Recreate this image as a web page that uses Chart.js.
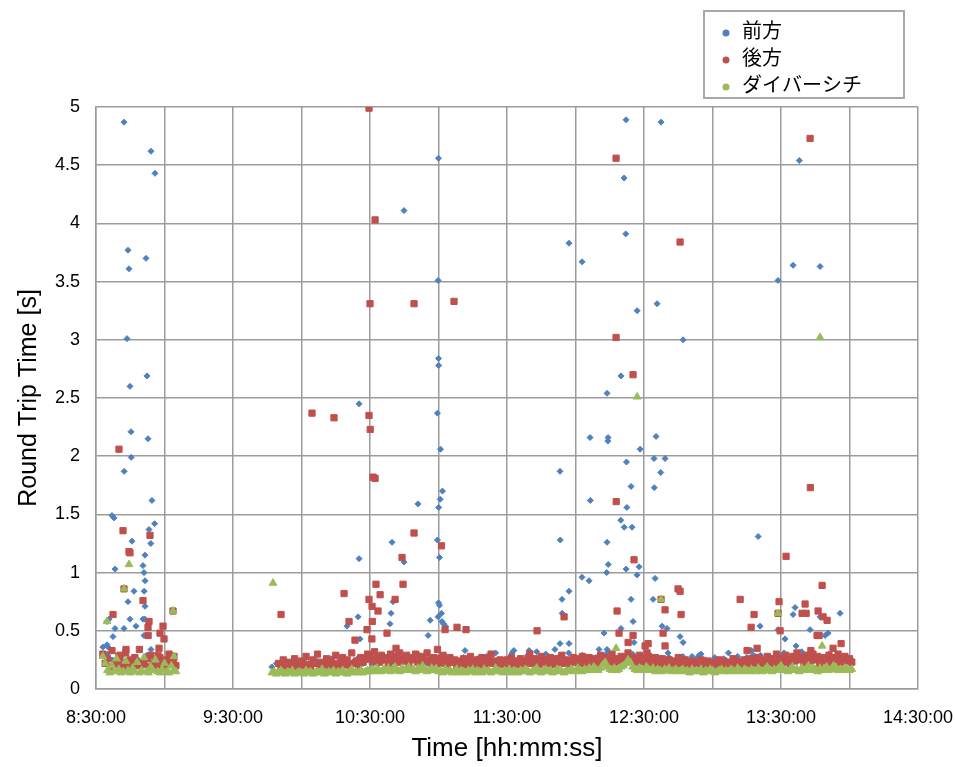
<!DOCTYPE html>
<html>
<head>
<meta charset="utf-8">
<script src="https://cdn.jsdelivr.net/npm/chart.js@4/dist/chart.umd.min.js"></script>
<style>
  html, body { margin: 0; padding: 0; background: #fff; }
  #wrap { width: 955px; height: 767px; }
</style>
</head>
<body>
<div id="wrap"><canvas id="rtt" width="955" height="767"></canvas></div>
<script>
// ---- series and axis labels ----
const seriesNames = ['前方', '後方', 'ダイバーシチ'];
const xTickLabels = ['8:30:00', '9:30:00', '10:30:00', '11:30:00', '12:30:00', '13:30:00', '14:30:00'];
const xRange = ['8:30:00', '14:30:00'];
const yRange = [0, 5];

// ---- steady-state readings: [first sample time, seconds between samples] ----
const blueBaseA = ['8:33:00', 120];
const blueValsA = [0.36,0.3,0.25,0.22,0.28,0.2,0.24,0.27,0.21,0.23,0.26,0.2,0.22,0.25,0.21,0.23,0.2];
const blueBaseB = ['9:47:00', 120];
const blueValsB = [
  0.19,0.22,0.2,0.24,0.21,0.23,0.2,0.25,0.22,0.21,
  0.24,0.2,0.23,0.26,0.21,0.22,0.25,0.2,0.24,0.27,
  0.22,0.25,0.21,0.28,0.23,0.26,0.22,0.29,0.24,0.27,
  0.23,0.26,0.3,0.24,0.22,0.27,0.25,0.28,0.23,0.26,
  0.24,0.22,0.27,0.25,0.23,0.26,0.22,0.28,0.24,0.31,
  0.25,0.23,0.27,0.33,0.26,0.24,0.29,0.25,0.32,0.27,
  0.3,0.26,0.34,0.28,0.25,0.31,0.27,0.24,0.29,0.26,
  0.24,0.27,0.23,0.29,0.25,0.22,0.26,0.28,0.24,0.3,
  0.26,0.23,0.25,0.28,0.22,0.26,0.24,0.27,0.23,0.25,
  0.28,0.24,0.22,0.26,0.3,0.25,0.23,0.27,0.24,0.26,
  0.31,0.25,0.28,0.24,0.27,0.33,0.26,0.29,0.25,0.28,
  0.24,0.27,0.3,0.25,0.28,0.26,0.32,0.27,0.29,0.25,
  0.28,0.26,0.3,0.25,0.27,0.24,0.26,0.25
];

const redBaseA = ['8:33:00', 60];
const redValsA = [0.3,0.22,0.26,0.19,0.33,0.21,0.24,0.28,0.2,0.23,0.31,0.19,0.25,0.22,0.27,0.2,0.34,0.23,0.21,0.26,0.19,0.29,0.22,0.24,0.2,0.27,0.23,0.19,0.25,0.3,0.21,0.24,0.2];
const redBaseB = ['9:50:00', 60];
const redValsB = [
  0.22,0.19,0.25,0.21,0.18,0.23,0.2,0.26,0.19,0.22,
  0.24,0.2,0.28,0.21,0.19,0.25,0.22,0.3,0.2,0.23,
  0.21,0.26,0.19,0.24,0.22,0.29,0.2,0.23,0.27,0.21,
  0.25,0.2,0.31,0.22,0.24,0.19,0.27,0.23,0.26,0.3,
  0.28,0.24,0.32,0.26,0.23,0.29,0.25,0.27,0.22,0.3,
  0.25,0.28,0.23,0.31,0.26,0.24,0.29,0.22,0.27,0.25,
  0.3,0.23,0.26,0.28,0.24,0.31,0.25,0.22,0.27,0.24,
  0.26,0.22,0.29,0.24,0.21,0.27,0.23,0.25,0.2,0.24,
  0.22,0.26,0.2,0.24,0.28,0.21,0.23,0.25,0.2,0.27,
  0.23,0.21,0.26,0.3,0.22,0.24,0.2,0.25,0.23,0.21,
  0.25,0.22,0.27,0.2,0.24,0.21,0.26,0.23,0.2,0.25,
  0.3,0.22,0.26,0.24,0.21,0.28,0.23,0.25,0.22,0.27,
  0.24,0.21,0.26,0.23,0.29,0.22,0.25,0.2,0.24,0.27,
  0.23,0.26,0.22,0.28,0.24,0.21,0.27,0.25,0.23,0.26,
  0.22,0.29,0.24,0.27,0.21,0.25,0.3,0.23,0.26,0.24,
  0.28,0.22,0.25,0.31,0.24,0.27,0.23,0.26,0.29,0.24,
  0.26,0.23,0.28,0.21,0.25,0.27,0.22,0.24,0.26,0.21,
  0.23,0.25,0.2,0.24,0.22,0.27,0.21,0.23,0.25,0.2,
  0.22,0.24,0.2,0.23,0.21,0.25,0.2,0.22,0.24,0.21,
  0.23,0.2,0.22,0.25,0.21,0.24,0.2,0.23,0.22,0.26,
  0.21,0.24,0.22,0.2,0.25,0.23,0.21,0.26,0.22,0.24,
  0.27,0.22,0.25,0.21,0.28,0.23,0.26,0.22,0.3,0.24,
  0.26,0.23,0.29,0.25,0.22,0.28,0.24,0.31,0.25,0.27,
  0.23,0.29,0.26,0.24,0.3,0.25,0.28,0.22,0.27,0.26,
  0.24,0.29,0.22,0.27,0.25,0.3,0.23,0.26,0.28,0.24,
  0.26,0.23
];

const greenBaseA = ['8:33:00', 60];
const greenValsA = [0.28,0.22,0.16,0.14,0.2,0.15,0.26,0.17,0.14,0.15,0.24,0.16,0.14,0.18,0.15,0.23,0.14,0.16,0.27,0.15,0.14,0.19,0.16,0.25,0.15,0.14,0.17,0.22,0.15,0.14,0.2,0.16,0.15];
const greenBaseB = ['9:47:00', 60];
const greenValsB = [
  0.14,0.15,0.13,0.14,0.16,0.14,0.13,0.15,0.14,0.16,
  0.13,0.14,0.15,0.14,0.13,0.16,0.14,0.15,0.13,0.14,
  0.15,0.14,0.17,0.13,0.14,0.15,0.14,0.16,0.13,0.15,
  0.14,0.16,0.14,0.13,0.15,0.17,0.14,0.15,0.14,0.16,
  0.14,0.15,0.16,0.15,0.17,0.15,0.18,0.16,0.15,0.17,
  0.16,0.18,0.15,0.17,0.19,0.16,0.15,0.18,0.16,0.17,
  0.19,0.16,0.17,0.15,0.18,0.16,0.2,0.17,0.15,0.16,
  0.18,0.16,0.17,0.15,0.16,0.14,0.17,0.15,0.16,0.14,
  0.15,0.17,0.14,0.16,0.15,0.14,0.16,0.15,0.17,0.14,
  0.16,0.15,0.14,0.17,0.15,0.16,0.14,0.15,0.18,0.16,
  0.15,0.14,0.16,0.15,0.17,0.14,0.16,0.15,0.14,0.16,
  0.15,0.17,0.16,0.14,0.15,0.16,0.18,0.15,0.14,0.16,
  0.17,0.15,0.16,0.14,0.15,0.17,0.16,0.15,0.14,0.16,
  0.15,0.17,0.16,0.15,0.18,0.16,0.15,0.17,0.16,0.18,
  0.16,0.19,0.17,0.16,0.18,0.21,0.23,0.19,0.17,0.16,
  0.18,0.16,0.17,0.19,0.2,0.22,0.25,0.23,0.19,0.17,
  0.16,0.18,0.17,0.16,0.19,0.17,0.16,0.18,0.15,0.17,
  0.16,0.15,0.17,0.16,0.18,0.15,0.16,0.17,0.15,0.16,
  0.17,0.15,0.16,0.14,0.17,0.15,0.16,0.15,0.17,0.14,
  0.16,0.15,0.17,0.16,0.14,0.15,0.16,0.17,0.15,0.16,
  0.15,0.17,0.16,0.15,0.18,0.16,0.15,0.17,0.16,0.15,
  0.17,0.16,0.15,0.18,0.16,0.15,0.17,0.19,0.16,0.15,
  0.17,0.16,0.18,0.2,0.17,0.16,0.15,0.17,0.19,0.16,
  0.17,0.15,0.18,0.16,0.17,0.2,0.16,0.18,0.17,0.15,
  0.18,0.16,0.17,0.19,0.16,0.17,0.2,0.18,0.16,0.17,
  0.16,0.18,0.17,0.16,0.17
];

// ---- individual delayed replies: [time, round trip seconds] ----
const blueSpikes = [
  ['8:42:16',4.87],['8:54:05',4.62],['8:55:50',4.43],['8:44:01',3.77],['8:51:54',3.70],['8:44:27',3.61],
  ['8:43:35',3.01],['8:52:20',2.69],['8:44:53',2.60],['8:45:20',2.21],['8:52:47',2.15],['8:45:25',1.99],
  ['8:42:20',1.87],['8:54:30',1.62],['8:37:00',1.49],['8:37:53',1.47],['8:55:40',1.42],['8:53:13',1.37],
  ['8:45:46',1.27],['8:54:00',1.25],['8:51:28',1.15],['8:50:35',1.06],['8:38:19',1.03],['8:51:01',1.00],
  ['8:51:30',0.93],['8:46:39',0.84],['8:51:05',0.84],['8:44:01',0.75],['8:51:28',0.71],['8:44:53',0.60],
  ['8:50:35',0.60],['8:51:25',0.60],['8:35:42',0.60],['8:34:49',0.58],['8:38:19',0.52],['8:42:16',0.52],
  ['8:47:31',0.54],['8:51:01',0.46],['8:37:27',0.45],['8:54:05',0.34],['8:34:49',0.38],['8:35:15',0.36],
  ['8:48:24',0.25],['8:52:20',0.29],
  ['10:25:12',1.12],['10:44:54',1.09],['10:40:05',0.75],['10:39:13',0.65],['10:24:46',0.62],['10:19:56',0.54],
  ['10:38:46',0.56],['10:25:38',0.43],['11:00:00',0.74],['11:00:26',0.72],['11:01:18',0.65],['10:59:50',0.62],
  ['10:56:21',0.59],['11:01:30',0.58],['11:02:10',0.56],['11:03:03',0.54],['10:55:28',0.46],['11:11:37',0.33],
  ['10:59:58',4.56],['10:44:54',4.11],['10:59:50',3.51],['11:00:00',2.84],['11:00:05',2.78],['10:25:12',2.45],
  ['10:59:32',2.37],['11:00:52',2.06],['11:01:44',1.70],['11:00:45',1.63],['10:51:00',1.59],['11:00:05',1.56],
  ['10:39:39',1.26],['10:59:32',1.28],['11:00:26',1.13],
  ['12:22:08',4.89],['12:37:28',4.87],['12:21:17',4.39],['12:22:00',3.91],['11:57:10',3.83],['12:02:53',3.67],
  ['12:35:43',3.31],['12:27:00',3.25],['12:47:07',3.00],['12:19:56',2.69],['12:13:49',2.54],['12:35:17',2.17],
  ['12:06:22',2.16],['12:14:16',2.16],['12:14:10',2.13],['12:28:18',2.06],['12:34:24',1.98],['12:39:13',1.98],
  ['11:53:13',1.87],['12:22:20',1.95],['12:37:20',1.86],['12:24:20',1.74],['12:34:30',1.73],['12:06:30',1.62],
  ['12:22:30',1.56],['12:19:50',1.45],['12:21:20',1.39],['12:24:46',1.39],['11:53:20',1.28],['12:13:50',1.26],
  ['12:14:20',1.07],['12:27:50',1.05],['12:27:00',0.98],['12:13:40',1.00],['12:02:50',0.96],['12:05:56',0.93],
  ['12:22:10',1.03],['12:34:51',0.95],['11:57:10',0.84],['11:54:06',0.77],['12:34:00',0.77],['12:24:20',0.77],
  ['11:54:10',0.65],['12:25:12',0.58],['12:37:55',0.54],['12:40:05',0.52],['12:19:56',0.52],['12:12:30',0.48],
  ['12:45:48',0.45],['12:47:07',0.40],['12:25:38',0.40],['11:53:13',0.39],['11:57:10',0.39],['12:40:31',0.31],
  ['12:13:49',0.34],['12:14:16',0.32],['12:10:18',0.34],['11:39:40',0.33],['11:32:13',0.31],['12:51:02',0.28],
  ['12:54:07',0.29],
  ['13:38:00',4.54],['13:35:17',3.64],['13:47:07',3.63],['13:28:43',3.51],['13:20:00',1.31],['13:36:10',0.70],
  ['13:35:17',0.64],['13:47:07',0.62],['13:55:52',0.65],['13:20:50',0.54],['13:28:43',0.51],['13:42:44',0.51],
  ['13:49:18',0.46],['13:50:37',0.48],['13:31:47',0.43],['13:36:36',0.37],['13:17:46',0.29],['13:18:38',0.28],
  ['13:31:21',0.31],['13:36:10',0.28]
];
const redSpikes = [
  ['8:40:04',2.06],['8:41:50',1.36],['8:53:39',1.32],['8:44:27',1.18],['8:44:53',1.17],['8:50:35',0.76],
  ['8:37:27',0.64],['8:53:13',0.58],['8:52:47',0.53],['8:59:21',0.54],['8:52:50',0.46],['8:58:02',0.48],
  ['8:59:47',0.43],['8:57:36',0.35],['8:43:08',0.34],['8:57:09',0.29],['8:40:30',0.29],['8:42:16',0.86],
  ['9:03:44',0.67],['9:04:10',0.28],
  ['10:29:34',4.99],['10:32:13',4.03],['10:30:00',3.31],['10:49:17',3.31],['11:06:48',3.33],['10:04:36',2.37],
  ['10:14:14',2.33],['10:29:34',2.35],['10:30:05',2.23],['10:31:20',1.82],['10:32:13',1.81],['10:49:17',1.34],
  ['11:01:18',1.23],['10:44:02',1.13],['9:51:02',0.64],['10:18:38',0.82],['10:32:38',0.90],['10:44:28',0.90],
  ['10:34:25',0.81],['10:29:34',0.77],['10:41:00',0.77],['10:30:54',0.71],['10:33:31',0.67],['10:20:49',0.58],
  ['10:31:00',0.58],['10:28:42',0.51],['10:37:27',0.48],['10:23:26',0.42],['10:30:50',0.43],['10:41:24',0.35],
  ['11:02:52',0.51],['11:08:07',0.53],['11:12:04',0.51],['10:59:32',0.34],
  ['12:17:46',4.56],['12:45:48',3.84],['12:17:46',3.02],['12:25:12',2.70],['12:17:50',1.61],['12:25:38',1.11],
  ['12:44:55',0.86],['12:45:48',0.84],['12:37:28',0.77],['12:18:12',0.67],['12:39:13',0.68],['11:55:00',0.62],
  ['12:46:14',0.64],['11:43:10',0.50],['12:19:04',0.48],['12:25:12',0.46],['12:38:21',0.48],['12:23:02',0.40],
  ['12:30:29',0.37],['12:31:48',0.39],['12:39:13',0.37],['12:31:20',0.31],
  ['13:42:44',4.73],['13:42:50',1.73],['13:32:13',1.14],['13:48:00',0.89],['13:12:06',0.77],['13:29:09',0.75],
  ['13:40:33',0.73],['13:18:12',0.64],['13:28:43',0.65],['13:39:14',0.65],['13:41:00',0.65],['13:46:15',0.67],
  ['13:48:26',0.62],['13:50:11',0.59],['13:16:55',0.53],['13:29:36',0.50],['13:45:48',0.46],['13:46:41',0.46],
  ['13:19:32',0.35],['13:15:08',0.33],['13:52:48',0.35],['13:56:19',0.39],['13:43:05',0.33]
];
const greenSpikes = [
  ['8:44:27',1.07],['8:42:16',0.86],['8:34:49',0.58],['9:03:44',0.67],['9:04:10',0.28],['9:47:31',0.91],
  ['12:27:00',2.51],['12:37:28',0.77],['12:17:46',0.35],['13:47:07',3.02],['13:28:43',0.65],['13:48:00',0.37]
];

// ---- helpers ----
function toSec(t) {
  const p = t.split(':').map(Number);
  return p[0] * 3600 + p[1] * 60 + (p[2] || 0);
}
function fmtTime(sec) {
  const h = Math.floor(sec / 3600);
  const m = Math.floor((sec % 3600) / 60);
  const s = Math.round(sec % 60);
  return h + ':' + String(m).padStart(2, '0') + ':' + String(s).padStart(2, '0');
}
function logged(base, values) {
  const t0 = toSec(base[0]);
  return values.map((v, i) => ({ x: t0 + i * base[1], y: v }));
}
function pairs(list) {
  return list.map(([t, v]) => ({ x: toSec(t), y: v }));
}

const bluePts = logged(blueBaseA, blueValsA).concat(logged(blueBaseB, blueValsB), pairs(blueSpikes));
const redPts = logged(redBaseA, redValsA).concat(logged(redBaseB, redValsB), pairs(redSpikes));
const greenPts = logged(greenBaseA, greenValsA).concat(logged(greenBaseB, greenValsB), pairs(greenSpikes));

const COLORS = ['#4f81bd', '#c0504d', '#9bbb59'];
const GRID = '#9c9c9c';
const LATIN = '"Liberation Sans", Arial, sans-serif';

// boxed legend in the upper right corner
const legendBox = {
  id: 'legendBox',
  afterDraw(chart) {
    const c = chart.ctx;
    c.save();
    c.fillStyle = '#fff';
    c.fillRect(704, 11, 200, 87);
    c.strokeStyle = '#a8a8a8';
    c.lineWidth = 2;
    c.strokeRect(704, 11, 200, 87);
    c.font = '20px "Noto Sans CJK JP", sans-serif';
    c.textBaseline = 'middle';
    c.textAlign = 'left';
    chart.data.datasets.forEach((ds, i) => {
      const y = 30 + i * 27;
      c.beginPath();
      c.arc(726, y + 3, 3.5, 0, Math.PI * 2);
      c.fillStyle = ds.backgroundColor;
      c.fill();
      c.fillStyle = '#000';
      c.fillText(ds.label, 742, y);
    });
    c.restore();
  }
};

new Chart(document.getElementById('rtt'), {
  type: 'scatter',
  data: {
    datasets: [
      { label: seriesNames[0], data: bluePts, pointStyle: 'rectRot', pointRadius: 3,
        backgroundColor: COLORS[0], borderColor: COLORS[0], borderWidth: 1, order: 3 },
      { label: seriesNames[1], data: redPts, pointStyle: 'rect', pointRadius: 4.4,
        backgroundColor: COLORS[1], borderColor: COLORS[1], borderWidth: 1, order: 2 },
      { label: seriesNames[2], data: greenPts, pointStyle: 'triangle', pointRadius: 4.4,
        backgroundColor: COLORS[2], borderColor: COLORS[2], borderWidth: 1, order: 1 }
    ]
  },
  options: {
    responsive: false,
    animation: false,
    events: [],
    layout: { padding: { top: 107, right: 37, left: 0, bottom: 0 } },
    plugins: { legend: { display: false }, tooltip: { enabled: false } },
    scales: {
      x: {
        type: 'linear',
        min: toSec(xRange[0]),
        max: toSec(xRange[1]),
        afterFit(s) { s.height = 78; s.paddingLeft = 0; s.paddingRight = 0; },
        ticks: {
          stepSize: 1800,
          autoSkip: false,
          maxRotation: 0,
          padding: 18,
          color: '#000',
          font: { family: LATIN, size: 18 },
          callback(v) {
            const label = fmtTime(v);
            return xTickLabels.includes(label) ? label : '';
          }
        },
        grid: { color: GRID, lineWidth: 1.5, drawTicks: false },
        border: { color: GRID, width: 1.5 },
        title: {
          display: true, text: 'Time [hh:mm:ss]', color: '#000',
          font: { family: LATIN, size: 26 }, padding: { top: 0, bottom: 3 }
        }
      },
      y: {
        min: yRange[0],
        max: yRange[1],
        afterFit(s) { s.width = 96; s.paddingTop = 0; s.paddingBottom = 0; },
        ticks: {
          stepSize: 0.5,
          padding: 16,
          color: '#000',
          font: { family: LATIN, size: 18 },
          callback(v) { return String(Math.round(v * 10) / 10); }
        },
        grid: { color: GRID, lineWidth: 1.5, drawTicks: false },
        border: { color: GRID, width: 1.5 },
        title: {
          display: true, text: 'Round Trip Time [s]', color: '#000',
          font: { family: LATIN, size: 25 }, padding: { top: 14, bottom: 0 }
        }
      }
    }
  },
  plugins: [legendBox]
});
</script>
</body>
</html>
